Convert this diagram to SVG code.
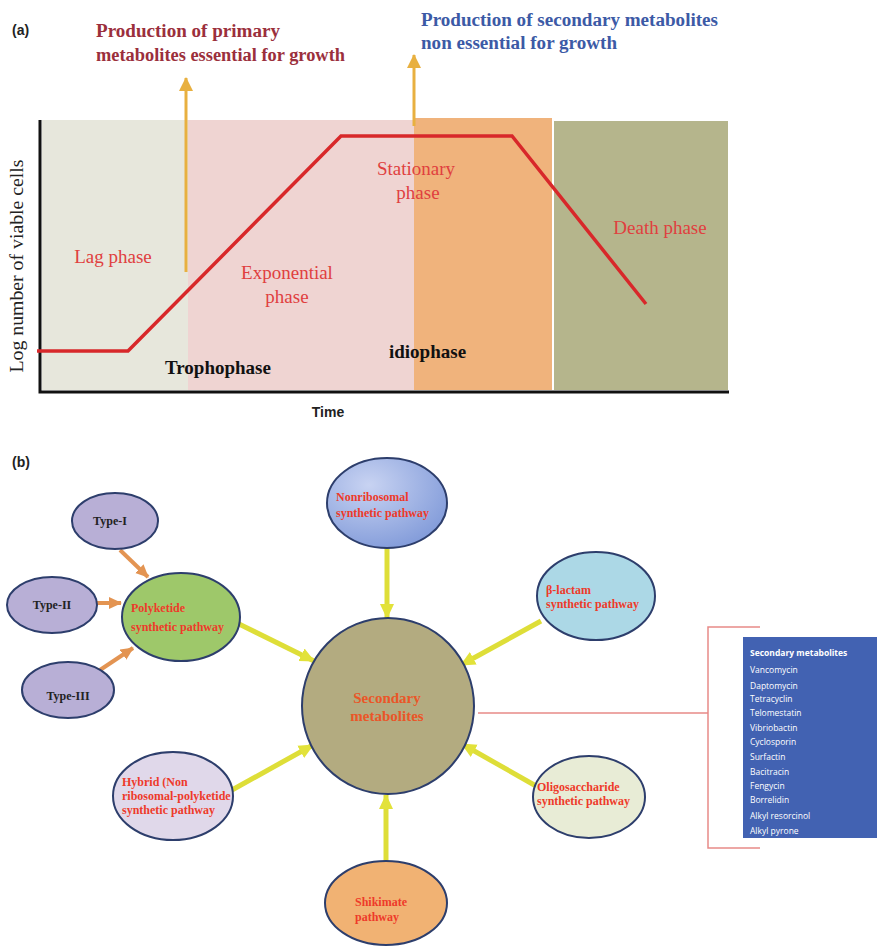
<svg xmlns="http://www.w3.org/2000/svg" width="877" height="949" viewBox="0 0 877 949">
<style>
.lbl{font-family:"Liberation Sans",Arial,sans-serif;font-weight:bold;fill:#222}
.ttl{font-family:"Liberation Serif","Times New Roman",serif;font-weight:bold}
.ph{font-family:"Liberation Serif","Times New Roman",serif;fill:#e0403f;font-size:19px;text-anchor:middle}
.bk{font-family:"Liberation Serif","Times New Roman",serif;font-weight:bold;fill:#111;font-size:19px}
.node{stroke:#2d3e6c;stroke-width:2}
.nt{font-family:"Liberation Serif","Times New Roman",serif;font-weight:bold;fill:#ee3a2a;font-size:12px}
.tt{font-family:"Liberation Serif","Times New Roman",serif;font-weight:bold;fill:#222;font-size:12px;text-anchor:middle}
.yl{stroke:#dede38;stroke-width:5;fill:none;marker-end:url(#ya)}
.ol{stroke:#e39452;stroke-width:4;fill:none;marker-end:url(#oa)}
.li{font-family:"Open Sans","Liberation Sans",sans-serif;fill:#fff;font-size:8.5px}
</style>
<defs>
<marker id="ga" markerUnits="userSpaceOnUse" markerWidth="14" markerHeight="16" refX="13" refY="7" orient="auto"><path d="M0,0 L14,7 L0,14 Z" fill="#e8b040"/></marker>
<marker id="ya" markerUnits="userSpaceOnUse" markerWidth="16" markerHeight="16" refX="14" refY="8" orient="auto"><path d="M0,1 L15,8 L0,15 Z" fill="#e2e23a"/></marker>
<marker id="oa" markerUnits="userSpaceOnUse" markerWidth="14" markerHeight="14" refX="12" refY="7" orient="auto"><path d="M0,1 L13,7 L0,13 Z" fill="#e39452"/></marker>
<radialGradient id="nrg" cx="0.35" cy="0.3" r="0.8"><stop offset="0" stop-color="#c8d3f2"/><stop offset="1" stop-color="#7e98d8"/></radialGradient>
</defs>

<!-- Part (a) -->
<g id="panel-a">
<text class="lbl" x="12" y="35" font-size="14">(a)</text>
<text class="ttl" x="96" y="37" font-size="18" fill="#9b2f3c" textLength="184" lengthAdjust="spacingAndGlyphs">Production of primary</text>
<text class="ttl" x="96" y="61" font-size="18" fill="#9b2f3c" textLength="249" lengthAdjust="spacingAndGlyphs">metabolites essential for growth</text>
<text class="ttl" x="421" y="26" font-size="18" fill="#3c5aa6" textLength="297" lengthAdjust="spacingAndGlyphs">Production of secondary metabolites</text>
<text class="ttl" x="421" y="49" font-size="18" fill="#3c5aa6" textLength="196" lengthAdjust="spacingAndGlyphs">non essential for growth</text>

<rect x="42" y="120" width="146" height="270" fill="#e7e7dc"/>
<rect x="188" y="120" width="226" height="270" fill="#efd4d2"/>
<rect x="414" y="118" width="138" height="272" fill="#f0b37c"/>
<rect x="554" y="121" width="174" height="269" fill="#b5b58c"/>

<path d="M40,120 L40,392 L729,392" fill="none" stroke="#111" stroke-width="3"/>
<polyline points="37,351 128,351 341,136 512,136 646,304" fill="none" stroke="#d8282a" stroke-width="3.5"/>

<line x1="186" y1="272" x2="186" y2="78" stroke="#e8b040" stroke-width="3" marker-end="url(#ga)"/>
<line x1="414" y1="126" x2="414" y2="55" stroke="#e8b040" stroke-width="3" marker-end="url(#ga)"/>

<text class="ph" x="113" y="263">Lag phase</text>
<text class="ph" x="287" y="279">Exponential</text>
<text class="ph" x="287" y="303">phase</text>
<text class="ph" x="416" y="175">Stationary</text>
<text class="ph" x="418" y="199">phase</text>
<text class="ph" x="660" y="234">Death phase</text>
<text class="bk" x="165" y="374">Trophophase</text>
<text class="bk" x="389" y="358">idiophase</text>
<text class="lbl" x="328" y="417" font-size="14" text-anchor="middle">Time</text>
<text transform="translate(23,266) rotate(-90)" font-family="Liberation Serif,Times New Roman,serif" font-size="18" fill="#222" text-anchor="middle" textLength="213" lengthAdjust="spacingAndGlyphs">Log number of viable cells</text>
</g>

<!-- Part (b) -->
<text class="lbl" x="12" y="467" font-size="14">(b)</text>

<g id="connectors">
<line class="ol" x1="120" y1="550" x2="148" y2="577"/>
<line class="ol" x1="97" y1="603" x2="121" y2="603"/>
<line class="ol" x1="100" y1="670" x2="133" y2="648"/>
<line class="yl" x1="387" y1="548" x2="387" y2="618"/>
<line class="yl" x1="239" y1="624" x2="314" y2="661"/>
<line class="yl" x1="541" y1="621" x2="461" y2="665"/>
<line class="yl" x1="232" y1="790" x2="313" y2="745"/>
<line class="yl" x1="536" y1="786" x2="462" y2="744"/>
<line class="yl" x1="386" y1="862" x2="386" y2="795"/>
<path d="M478,713 L708,713 M760,627 L708,627 L708,848 L760,848" fill="none" stroke="#e88a88" stroke-width="1.5"/>
</g>

<g id="type-i"><ellipse class="node" cx="115" cy="521" rx="43" ry="28" fill="#b8afd6"/><text class="tt" x="110" y="525">Type-I</text></g>
<g id="type-ii"><ellipse class="node" cx="52" cy="605" rx="45" ry="28" fill="#b8afd6"/><text class="tt" x="52" y="609">Type-II</text></g>
<g id="type-iii"><ellipse class="node" cx="68" cy="690" rx="46" ry="28" fill="#b8afd6"/><text class="tt" x="68" y="700">Type-III</text></g>

<g id="polyketide"><ellipse class="node" cx="181" cy="617" rx="59" ry="44" fill="#9ec86a"/>
<text class="nt" x="131" y="612">Polyketide</text><text class="nt" x="131" y="631">synthetic pathway</text></g>

<g id="nonribosomal"><ellipse class="node" cx="387" cy="503" rx="60" ry="45" fill="url(#nrg)"/>
<text class="nt" x="336" y="501">Nonribosomal</text><text class="nt" x="336" y="517">synthetic pathway</text></g>

<g id="beta-lactam"><ellipse class="node" cx="596" cy="596" rx="59" ry="44" fill="#acd8e6"/>
<text class="nt" x="546" y="594">β-lactam</text><text class="nt" x="546" y="608">synthetic pathway</text></g>

<g id="secondary"><ellipse class="node" cx="388" cy="706" rx="86" ry="88" fill="#b3ab80"/>
<text x="387" y="703" font-family="Liberation Serif,Times New Roman,serif" font-weight="bold" font-size="15" fill="#ea5628" text-anchor="middle">Secondary</text>
<text x="387" y="721" font-family="Liberation Serif,Times New Roman,serif" font-weight="bold" font-size="15" fill="#ea5628" text-anchor="middle">metabolites</text></g>

<g id="hybrid"><ellipse class="node" cx="173" cy="796" rx="60" ry="44" fill="#e0d8ea"/>
<text class="nt" x="122" y="786">Hybrid (Non</text><text class="nt" x="122" y="800">ribosomal-polyketide</text><text class="nt" x="122" y="814">synthetic pathway</text></g>

<g id="oligosaccharide"><ellipse class="node" cx="589" cy="797" rx="56" ry="41" fill="#e8ecd6"/>
<text class="nt" x="537" y="791">Oligosaccharide</text><text class="nt" x="537" y="805">synthetic pathway</text></g>

<g id="shikimate"><ellipse class="node" cx="386" cy="903" rx="61" ry="42" fill="#f1b273"/>
<text class="nt" x="355" y="906">Shikimate</text><text class="nt" x="355" y="921">pathway</text></g>

<g id="metabolite-list">
<rect x="743" y="637" width="134" height="201" fill="#4262b2"/>
<text class="li" x="750" y="656" font-weight="bold" font-size="10">Secondary metabolites</text>
<text class="li" x="750" y="673">Vancomycin</text>
<text class="li" x="750" y="689">Daptomycin</text>
<text class="li" x="750" y="702">Tetracyclin</text>
<text class="li" x="750" y="716">Telomestatin</text>
<text class="li" x="750" y="731">Vibriobactin</text>
<text class="li" x="750" y="745">Cyclosporin</text>
<text class="li" x="750" y="760">Surfactin</text>
<text class="li" x="750" y="775">Bacitracin</text>
<text class="li" x="750" y="789">Fengycin</text>
<text class="li" x="750" y="803">Borrelidin</text>
<text class="li" x="750" y="819">Alkyl resorcinol</text>
<text class="li" x="750" y="834">Alkyl pyrone</text>
</g>
</svg>
